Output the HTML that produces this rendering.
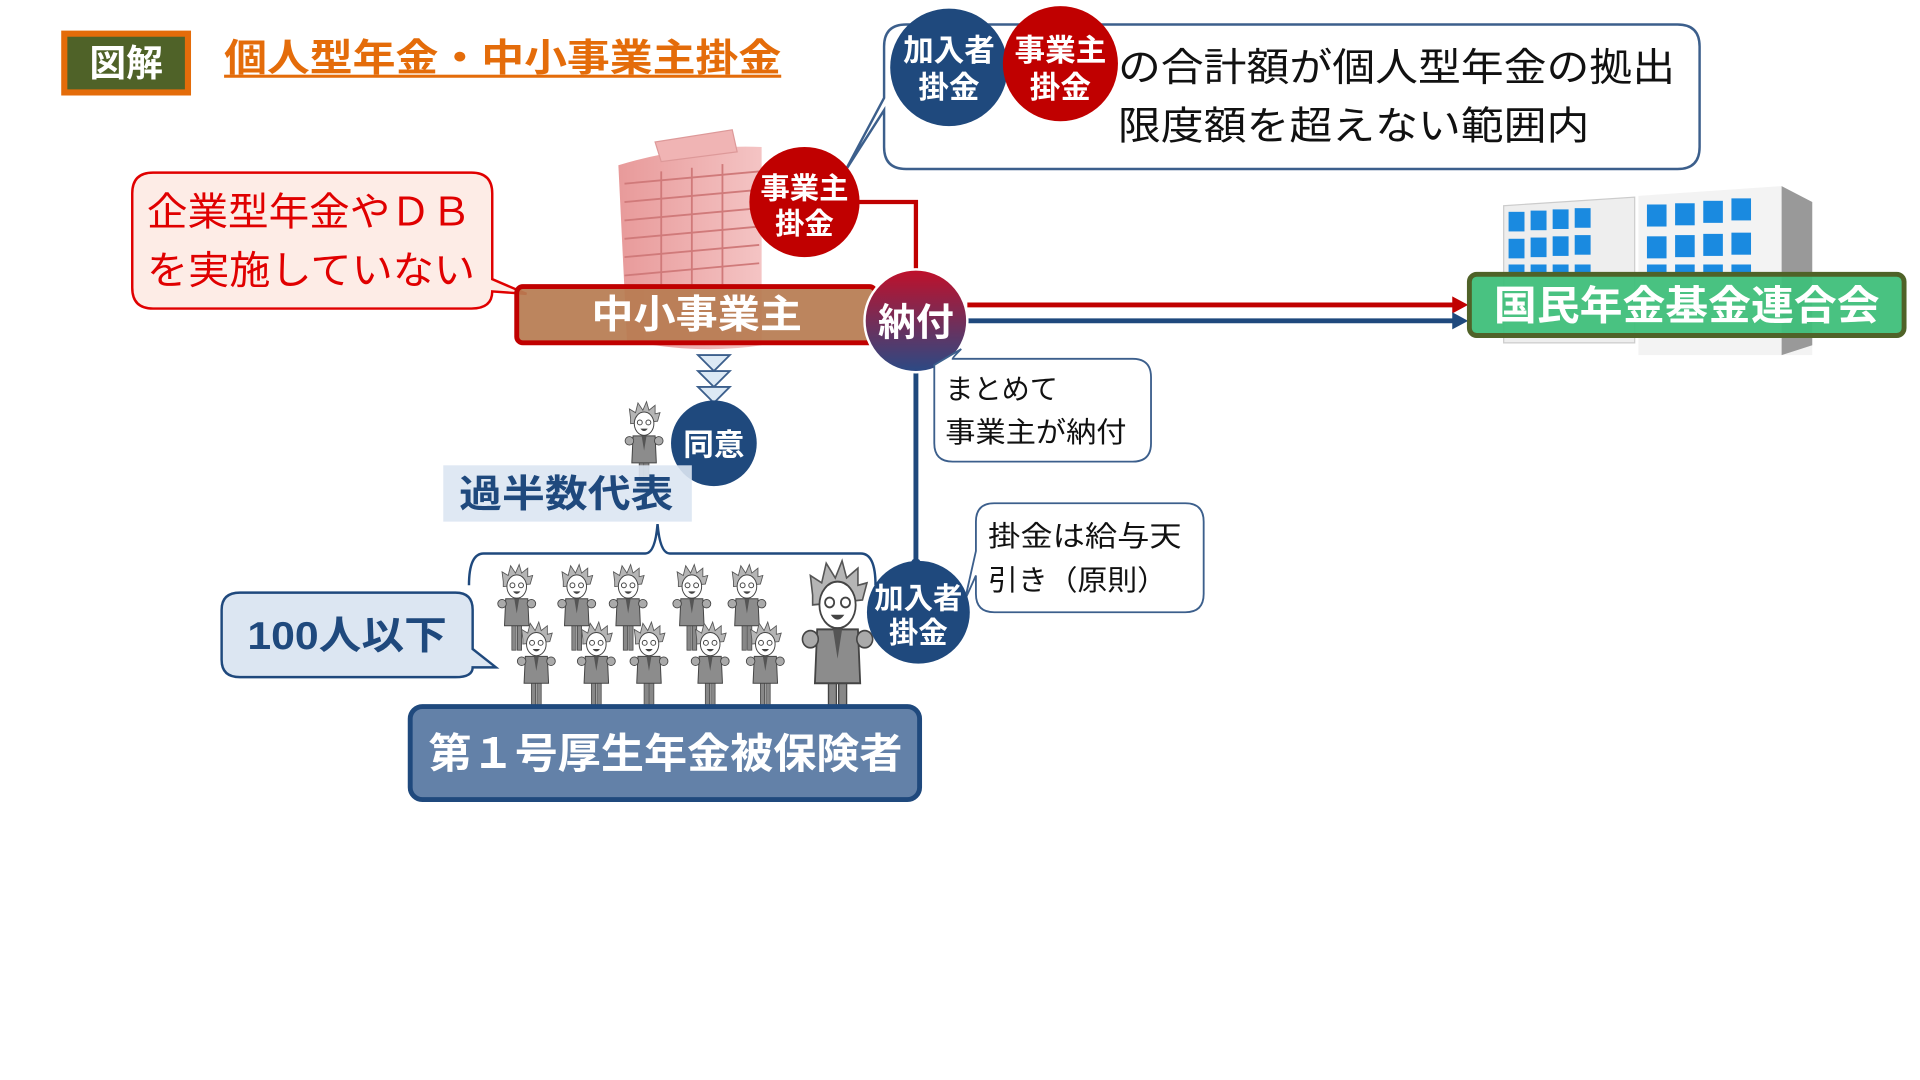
<!DOCTYPE html>
<html><head><meta charset="utf-8"><style>
html,body{margin:0;padding:0;background:#fff;width:1920px;height:1080px;overflow:hidden}
svg{display:block}
text{font-family:"Liberation Sans","Noto Sans CJK JP",sans-serif}
.b{font-weight:bold}
</style></head><body>
<svg width="1920" height="1080" viewBox="0 0 1568 882" xmlns="http://www.w3.org/2000/svg">
<defs>
<linearGradient id="nf" x1="0" y1="0" x2="0" y2="1"><stop offset="0" stop-color="#c0102a"/><stop offset="1" stop-color="#2a4a85"/></linearGradient>
<linearGradient id="bld" x1="0" y1="0" x2="1" y2="0"><stop offset="0" stop-color="#e89a9a"/><stop offset="1" stop-color="#f4c4c4"/></linearGradient>
<g id="p">
 <rect x="-4" y="40" width="3.5" height="26" fill="#888" stroke="#444" stroke-width="0.6"/>
 <rect x="0.5" y="40" width="3.5" height="26" fill="#888" stroke="#444" stroke-width="0.6"/>
 <path d="M-9 24 L9 24 L10 46 L-10 46 Z" fill="#8c8c8c" stroke="#444" stroke-width="0.8"/>
 <path d="M-2 24 L0 36 L2 24Z" fill="#555"/>
 <circle cx="-12" cy="28" r="3.5" fill="#aaa" stroke="#444" stroke-width="0.7"/>
 <circle cx="12" cy="28" r="3.5" fill="#aaa" stroke="#444" stroke-width="0.7"/>
 <path d="M-11 10 L-12 2 L-7 5 L-5 -3 L-1 3 L2 -4 L4 3 L9 -1 L9 6 L13 5 L11 12 L-11 14Z" fill="#b5b5b5" stroke="#555" stroke-width="0.7"/>
 <ellipse cx="0" cy="14" rx="8" ry="9.5" fill="#fff" stroke="#444" stroke-width="0.8"/>
 <circle cx="-3.5" cy="13" r="2" fill="none" stroke="#444" stroke-width="0.8"/>
 <circle cx="3.5" cy="13" r="2" fill="none" stroke="#444" stroke-width="0.8"/>
 <path d="M-3 18 Q0 22 3 18Z" fill="#444"/>
</g>
</defs>

<!-- header -->
<rect x="52.5" y="27.5" width="101" height="48" fill="#4f6228" stroke="#e46c0a" stroke-width="5"/>
<text x="103" y="62" text-anchor="middle" class="b" font-size="30" fill="#fff">図解</text>
<text x="183" y="58" class="b" font-size="31" fill="#e46c0a" textLength="455" lengthAdjust="spacingAndGlyphs">個人型年金・中小事業主掛金</text>
<rect x="183" y="61" width="455" height="2.5" fill="#e46c0a"/>

<!-- top callout -->
<path d="M740 20 H1370 Q1388 20 1388 38 V120 Q1388 138 1370 138 H740 Q722 138 722 120 L722 90 L690 140 L722 80 V38 Q722 20 740 20Z" fill="#fff" stroke="#3c5f8c" stroke-width="2"/>
<circle cx="775" cy="55" r="48" fill="#1f497d"/>
<text x="775" y="50" text-anchor="middle" class="b" font-size="25" fill="#fff">加入者</text>
<text x="775" y="80" text-anchor="middle" class="b" font-size="25" fill="#fff">掛金</text>
<circle cx="866" cy="52" r="47" fill="#c00000"/>
<text x="866" y="50" text-anchor="middle" class="b" font-size="25" fill="#fff">事業主</text>
<text x="866" y="80" text-anchor="middle" class="b" font-size="25" fill="#fff">掛金</text>
<text x="913" y="66" font-size="32" fill="#111" textLength="455" lengthAdjust="spacingAndGlyphs">の合計額が個人型年金の拠出</text>
<text x="913" y="114" font-size="32" fill="#111" textLength="385" lengthAdjust="spacingAndGlyphs">限度額を超えない範囲内</text>

<!-- red callout -->
<path d="M125 141 H385 Q402 141 402 158 V228 L430 240 L402 238 Q402 252 385 252 H125 Q108 252 108 235 V158 Q108 141 125 141Z" fill="#fdece6" stroke="#e00000" stroke-width="2"/>
<text x="120" y="184" font-size="32" fill="#e00000" textLength="265" lengthAdjust="spacingAndGlyphs">企業型年金やＤＢ</text>
<text x="120" y="232" font-size="32" fill="#e00000" textLength="268" lengthAdjust="spacingAndGlyphs">を実施していない</text>

<!-- building pink -->
<path d="M505 135 Q560 118 622 120 L622 282 Q570 290 512 278Z" fill="url(#bld)"/>
<path d="M535 116 L598 106 L602 124 L540 132Z" fill="#f0b4b4" stroke="#d99" stroke-width="1"/>
<g stroke="#d07a7a" stroke-width="1.5">
<line x1="510" y1="150" x2="620" y2="140"/><line x1="510" y1="165" x2="620" y2="155"/><line x1="510" y1="180" x2="620" y2="170"/><line x1="510" y1="195" x2="620" y2="185"/><line x1="510" y1="210" x2="620" y2="200"/><line x1="510" y1="225" x2="620" y2="215"/>
<line x1="540" y1="140" x2="540" y2="232"/><line x1="565" y1="137" x2="565" y2="232"/><line x1="590" y1="134" x2="590" y2="232"/>
</g>

<!-- red connector -->
<polyline points="700,165 748,165 748,225" fill="none" stroke="#c00000" stroke-width="3.5"/>
<circle cx="657" cy="165" r="45" fill="#c00000"/>
<text x="657" y="162" text-anchor="middle" class="b" font-size="24" fill="#fff">事業主</text>
<text x="657" y="191" text-anchor="middle" class="b" font-size="24" fill="#fff">掛金</text>

<!-- 中小事業主 -->
<rect x="422" y="234" width="293" height="46" rx="5" fill="#b77c52" fill-opacity="0.93" stroke="#c00000" stroke-width="4"/>
<text x="483" y="268" class="b" font-size="32" fill="#fff" textLength="172" lengthAdjust="spacingAndGlyphs">中小事業主</text>

<!-- arrows -->
<line x1="790" y1="249" x2="1188" y2="249" stroke="#c00000" stroke-width="4"/>
<path d="M1186 242 L1199 249 L1186 256Z" fill="#c00000"/>
<line x1="790" y1="262" x2="1188" y2="262" stroke="#1f497d" stroke-width="4"/>
<path d="M1186 255 L1199 262 L1186 269Z" fill="#1f497d"/>

<!-- vertical blue -->
<line x1="748" y1="290" x2="748" y2="470" stroke="#1f497d" stroke-width="4"/>
<circle cx="748" cy="262" r="42" fill="url(#nf)" stroke="#fff" stroke-width="2"/>
<text x="748" y="274" text-anchor="middle" class="b" font-size="31" fill="#fff">納付</text>

<!-- green building -->
<path d="M1228 168 L1335 161 L1335 280 L1228 280Z" fill="#eee" stroke="#ccc"/>
<path d="M1338 160 L1455 152 L1480 165 L1480 290 L1455 290 L1338 290Z" fill="#f3f3f3"/>
<path d="M1455 152 L1480 165 L1480 282 L1455 290Z" fill="#999"/>
<g fill="#1a8ae0">
<rect x="1232" y="173" width="13" height="16"/><rect x="1250" y="172" width="13" height="16"/><rect x="1268" y="171" width="13" height="16"/><rect x="1286" y="170" width="13" height="16"/>
<rect x="1232" y="195" width="13" height="16"/><rect x="1250" y="194" width="13" height="16"/><rect x="1268" y="193" width="13" height="16"/><rect x="1286" y="192" width="13" height="16"/>
<rect x="1232" y="216" width="13" height="8"/><rect x="1250" y="216" width="13" height="8"/><rect x="1268" y="216" width="13" height="8"/><rect x="1286" y="216" width="13" height="8"/>
<rect x="1345" y="167" width="16" height="18"/><rect x="1368" y="166" width="16" height="18"/><rect x="1391" y="164" width="16" height="18"/><rect x="1414" y="162" width="16" height="18"/>
<rect x="1345" y="193" width="16" height="18"/><rect x="1368" y="192" width="16" height="18"/><rect x="1391" y="191" width="16" height="18"/><rect x="1414" y="190" width="16" height="18"/>
<rect x="1345" y="216" width="16" height="8"/><rect x="1368" y="216" width="16" height="8"/><rect x="1391" y="216" width="16" height="8"/><rect x="1414" y="216" width="16" height="8"/>
</g>
<rect x="1200" y="224" width="355" height="50" rx="6" fill="#3fbf7a" fill-opacity="0.95" stroke="#4f6228" stroke-width="4"/>
<text x="1220" y="261" class="b" font-size="33" fill="#fff" textLength="315" lengthAdjust="spacingAndGlyphs">国民年金基金連合会</text>

<!-- まとめて callout -->
<path d="M778 293 H925 Q940 293 940 308 V362 Q940 377 925 377 H778 Q763 377 763 362 V298 L785 285 Q778 292 778 293Z" fill="#fff" stroke="#3c5f8c" stroke-width="1.5"/>
<text x="772" y="326" font-size="23" fill="#111">まとめて</text>
<text x="772" y="361" font-size="23" fill="#111" textLength="148" lengthAdjust="spacingAndGlyphs">事業主が納付</text>

<!-- 掛金は給与天 callout -->
<path d="M812 411 H968 Q983 411 983 426 V485 Q983 500 968 500 H812 Q797 500 797 485 V470 L788 490 L797 450 V426 Q797 411 812 411Z" fill="#fff" stroke="#3c5f8c" stroke-width="1.5"/>
<text x="807" y="446" font-size="23" fill="#111" textLength="158" lengthAdjust="spacingAndGlyphs">掛金は給与天</text>
<text x="807" y="482" font-size="23" fill="#111" textLength="146" lengthAdjust="spacingAndGlyphs">引き（原則）</text>

<!-- triangles -->
<g fill="#dce9f5" stroke="#3c5f8c" stroke-width="1.5">
<path d="M570 290 H596 L583 303Z"/><path d="M570 303 H596 L583 316Z"/><path d="M570 316 H596 L583 329Z"/>
</g>
<use href="#p" x="526" y="332"/>
<circle cx="583" cy="362" r="35" fill="#1f497d"/>
<text x="583" y="372" text-anchor="middle" class="b" font-size="25" fill="#fff">同意</text>

<rect x="362" y="380" width="203" height="46" fill="#dce6f2" fill-opacity="0.9"/>
<text x="375" y="414" class="b" font-size="31" fill="#1f497d" textLength="175" lengthAdjust="spacingAndGlyphs">過半数代表</text>

<!-- bracket -->
<path d="M383 478 Q383 452 395 452 H527 Q535 452 537 428 Q539 452 547 452 H703 Q715 452 715 478" fill="none" stroke="#1f497d" stroke-width="2"/>

<!-- 100人以下 -->
<path d="M196 484 H372 Q386 484 386 498 V530 L405 545 L386 545 Q386 553 372 553 H196 Q181 553 181 539 V498 Q181 484 196 484Z" fill="#dce6f2" stroke="#1f497d" stroke-width="2"/>
<text x="202" y="530" class="b" font-size="32" fill="#1f497d" textLength="163" lengthAdjust="spacingAndGlyphs">100人以下</text>

<!-- people -->
<use href="#p" x="422" y="465"/><use href="#p" x="471" y="465"/><use href="#p" x="513" y="465"/><use href="#p" x="565" y="465"/><use href="#p" x="610" y="465"/>
<use href="#p" x="438" y="512"/><use href="#p" x="487" y="512"/><use href="#p" x="530" y="512"/><use href="#p" x="580" y="512"/><use href="#p" x="625" y="512"/>
<g transform="translate(684,466) scale(1.85,2)"><use href="#p"/></g>

<!-- 第1号 -->
<rect x="335" y="577" width="416" height="76" rx="10" fill="#6381a8" stroke="#1f497d" stroke-width="4"/>
<text x="350" y="627" class="b" font-size="34" fill="#fff" textLength="387" lengthAdjust="spacingAndGlyphs">第１号厚生年金被保険者</text>

<!-- 加入者掛金 bottom -->
<circle cx="748" cy="460" r="4" fill="#1f497d"/>
<circle cx="750" cy="500" r="42" fill="#1f497d"/>
<text x="750" y="497" text-anchor="middle" class="b" font-size="24" fill="#fff">加入者</text>
<text x="750" y="525" text-anchor="middle" class="b" font-size="24" fill="#fff">掛金</text>
</svg>
</body></html>
